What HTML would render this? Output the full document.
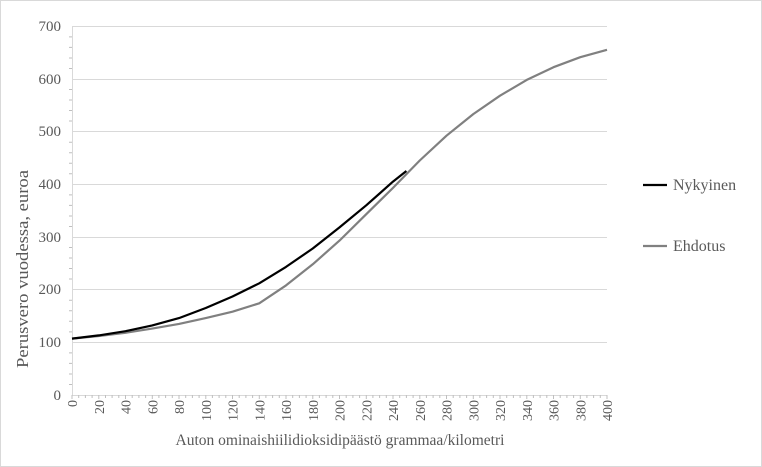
<!DOCTYPE html>
<html><head><meta charset="utf-8"><style>html,body{margin:0;padding:0;background:#fff}svg{display:block}text{font-family:"Liberation Serif",serif;fill:#595959}</style></head><body>
<svg width="762" height="467" viewBox="0 0 762 467" xmlns="http://www.w3.org/2000/svg">
<rect x="0.5" y="0.5" width="761" height="466" fill="#fff" stroke="#d9d9d9"/>
<g stroke="#d9d9d9" stroke-width="1">
<line x1="72" y1="26.5" x2="607" y2="26.5"/><line x1="72" y1="79.5" x2="607" y2="79.5"/><line x1="72" y1="131.5" x2="607" y2="131.5"/><line x1="72" y1="184.5" x2="607" y2="184.5"/><line x1="72" y1="237.5" x2="607" y2="237.5"/><line x1="72" y1="289.5" x2="607" y2="289.5"/><line x1="72" y1="342.5" x2="607" y2="342.5"/>
<line x1="72.5" y1="26" x2="72.5" y2="395"/><line x1="72" y1="395.5" x2="607" y2="395.5"/>
</g>
<g font-size="15" text-anchor="end">
<text x="61" y="31">700</text><text x="61" y="84">600</text><text x="61" y="136">500</text><text x="61" y="189">400</text><text x="61" y="242">300</text><text x="61" y="294">200</text><text x="61" y="347">100</text><text x="61" y="400">0</text>
</g>
<g font-size="14" text-anchor="end">
<text transform="translate(77,400) rotate(-90)">0</text>
<text transform="translate(103.8,400) rotate(-90)">20</text>
<text transform="translate(130.5,400) rotate(-90)">40</text>
<text transform="translate(157.3,400) rotate(-90)">60</text>
<text transform="translate(184,400) rotate(-90)">80</text>
<text transform="translate(210.8,400) rotate(-90)">100</text>
<text transform="translate(237.5,400) rotate(-90)">120</text>
<text transform="translate(264.3,400) rotate(-90)">140</text>
<text transform="translate(291,400) rotate(-90)">160</text>
<text transform="translate(317.8,400) rotate(-90)">180</text>
<text transform="translate(344.5,400) rotate(-90)">200</text>
<text transform="translate(371.3,400) rotate(-90)">220</text>
<text transform="translate(398,400) rotate(-90)">240</text>
<text transform="translate(424.8,400) rotate(-90)">260</text>
<text transform="translate(451.5,400) rotate(-90)">280</text>
<text transform="translate(478.3,400) rotate(-90)">300</text>
<text transform="translate(505,400) rotate(-90)">320</text>
<text transform="translate(531.8,400) rotate(-90)">340</text>
<text transform="translate(558.5,400) rotate(-90)">360</text>
<text transform="translate(585.3,400) rotate(-90)">380</text>
<text transform="translate(612,400) rotate(-90)">400</text>
</g>
<text x="340" y="445" font-size="15.5" text-anchor="middle">Auton ominaishiilidioksidipäästö  grammaa/kilometri</text>
<text transform="translate(28,269) rotate(-90)" font-size="17" text-anchor="middle" textLength="198" lengthAdjust="spacingAndGlyphs">Perusvero vuodessa, euroa</text>
<polyline fill="none" stroke="#808080" stroke-width="2.2" stroke-linejoin="round" points="72,338.6 98.75,336 125.5,332.8 152.25,328.6 179,323.9 205.75,318.1 232.5,311.7 259.25,303.3 286,285.4 312.75,264.3 339.5,240.6 366.25,214.2 393,187.9 419.75,160.5 446.5,135.7 473.25,114.1 500,95.7 526.75,79.9 553.5,67.2 580.25,57.2 607,49.8"/>
<polyline fill="none" stroke="#000" stroke-width="2.2" stroke-linejoin="round" points="72,338.6 98.75,335.4 125.5,331.2 152.25,325.4 179,318.1 205.75,308 232.5,296.5 259.25,283.3 286,266.9 312.75,248.5 339.5,227.4 366.25,205.3 393,181.6 406.4,171"/>
<line x1="643" y1="185" x2="667" y2="185" stroke="#000" stroke-width="2.2"/>
<text x="673" y="190" font-size="16">Nykyinen</text>
<line x1="643" y1="246" x2="667" y2="246" stroke="#808080" stroke-width="2.2"/>
<text x="673" y="251" font-size="16">Ehdotus</text>
<g stroke="#bfbfbf" stroke-width="1">
<path d="M72,395v4M78.7,395v3M85.4,395v3M92.1,395v3M98.8,395v4M105.5,395v3M112.1,395v3M118.8,395v3M125.5,395v4M132.2,395v3M138.9,395v3M145.6,395v3M152.3,395v4M158.9,395v3M165.6,395v3M172.3,395v3M179,395v4M185.7,395v3M192.4,395v3M199.1,395v3M205.8,395v4M212.4,395v3M219.1,395v3M225.8,395v3M232.5,395v4M239.2,395v3M245.9,395v3M252.6,395v3M259.3,395v4M265.9,395v3M272.6,395v3M279.3,395v3M286,395v4M292.7,395v3M299.4,395v3M306.1,395v3M312.8,395v4M319.4,395v3M326.1,395v3M332.8,395v3M339.5,395v4M346.2,395v3M352.9,395v3M359.6,395v3M366.3,395v4M372.9,395v3M379.6,395v3M386.3,395v3M393,395v4M399.7,395v3M406.4,395v3M413.1,395v3M419.8,395v4M426.4,395v3M433.1,395v3M439.8,395v3M446.5,395v4M453.2,395v3M459.9,395v3M466.6,395v3M473.3,395v4M479.9,395v3M486.6,395v3M493.3,395v3M500,395v4M506.7,395v3M513.4,395v3M520.1,395v3M526.8,395v4M533.4,395v3M540.1,395v3M546.8,395v3M553.5,395v4M560.2,395v3M566.9,395v3M573.6,395v3M580.3,395v4M586.9,395v3M593.6,395v3M600.3,395v3M607,395v4"/>
<path d="M69,384.5h3M69,374h3M69,363.4h3M69,352.9h3M69,331.9h3M69,321.3h3M69,310.8h3M69,300.3h3M69,279h3M69,268.5h3M69,258h3M69,247.5h3M69,226.5h3M69,216h3M69,205.4h3M69,194.9h3M69,173.8h3M69,163.3h3M69,152.8h3M69,142.3h3M69,121h3M69,110.5h3M69,100h3M69,89.5h3M69,68.5h3M69,58h3M69,47.4h3M69,36.9h3"/>
</g>
</svg>
</body></html>
